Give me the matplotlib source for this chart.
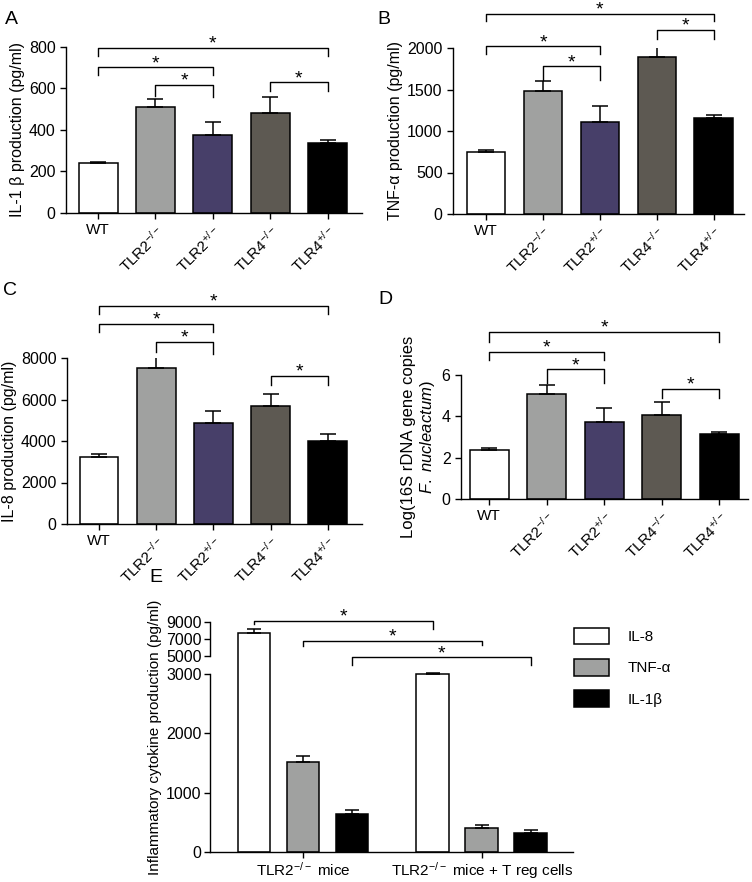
import numpy as np
import matplotlib
matplotlib.use("Agg")
import matplotlib.pyplot as plt
from matplotlib.patches import Patch

plt.rcParams['font.family'] = ['Liberation Sans', 'DejaVu Sans']
plt.rcParams['mathtext.fontset'] = 'custom'
plt.rcParams['mathtext.rm'] = 'Liberation Sans'
plt.rcParams['mathtext.it'] = 'Liberation Sans:italic'
plt.rcParams['mathtext.bf'] = 'Liberation Sans:bold'
plt.rcParams['font.size'] = 10
plt.rcParams['axes.linewidth'] = 1.0
plt.rcParams['xtick.major.width'] = 1.0
plt.rcParams['ytick.major.width'] = 1.0
plt.rcParams['xtick.major.size'] = 4
plt.rcParams['ytick.major.size'] = 4

# ---- data ----
groups = ['WT', 'TLR2$^{-/-}$', 'TLR2$^{+/-}$', 'TLR4$^{-/-}$', 'TLR4$^{+/-}$']
bar_colors = ['white', '#a0a1a0', '#473f69', '#5d5952', 'black']

il1b_mean = [241, 509, 374, 483, 339]
il1b_err = [6, 42, 64, 76, 13]
tnf_mean = [747, 1478, 1108, 1892, 1157]
tnf_err = [28, 128, 189, 160, 40]
il8_mean = [3232, 7504, 4848, 5680, 4000]
il8_err = [128, 624, 576, 576, 320]
fn_mean = [2.37, 5.10, 3.74, 4.05, 3.15]
fn_err = [0.11, 0.43, 0.68, 0.64, 0.09]

# brackets: (i, j, top, left drop, right drop)
br_a = [(0, 4, 797, 757, 757), (0, 2, 702, 667, 667), (1, 2, 618, 565, 557), (3, 4, 630, 586, 586)]
br_b = [(0, 4, 2414, 2325, 2325), (3, 4, 2221, 2108, 2108), (0, 2, 2020, 1928, 1928), (1, 2, 1779, 1618, 1618)]
br_c = [(0, 4, 10528, 10128, 10128), (0, 2, 9648, 9248, 9248), (1, 2, 8768, 8288, 8176), (3, 4, 7152, 6720, 6720)]
br_d = [(0, 4, 8.1, 7.61, 7.61), (0, 2, 7.13, 6.73, 6.73), (1, 2, 6.27, 5.63, 5.63), (3, 4, 5.32, 4.87, 4.87)]

e_groups = ['TLR2$^{-/-}$ mice', 'TLR2$^{-/-}$ mice + T reg cells']
e_series = ['IL-8', 'TNF-α', 'IL-1β']
e_colors = ['white', '#a0a1a0', 'black']
e_mean = [[7757, 3030], [1523, 412], [632, 327]]
e_err = [[466, 60], [101, 39], [84, 40]]
br_e = [(0, 9116, 8806, 8223), (1, 6800, 6176, 6294), (2, 4848, 4036, 4036)]


def bracket(ax, x1, x2, y, yl, yr, fs=14):
    ax.plot([x1, x1, x2, x2], [yl, y, y, yr], color='black', lw=1.0, clip_on=False)
    ax.annotate('*', ((x1 + x2) / 2, y), xytext=(0, -3.5), textcoords='offset points',
                ha='center', va='bottom', fontsize=fs, annotation_clip=False)


def panel(rect, means, errs, ylim, yticks, ylabel, brs, xlim, ylab_fs=11.5):
    ax = fig.add_axes(rect)
    x = np.arange(len(means))
    ax.bar(x, means, width=0.68, color=bar_colors, edgecolor='black', linewidth=1.1, zorder=2)
    ax.errorbar(x, means, yerr=[np.zeros(len(errs)), errs], fmt='none', ecolor='black',
                elinewidth=1.1, capsize=6, capthick=1.1, zorder=3)
    ax.set_xlim(*xlim)
    ax.set_ylim(*ylim)
    ax.set_yticks(yticks)
    ax.set_xticks(x)
    ax.set_xticklabels(groups)
    for k, lab in enumerate(ax.get_xticklabels()):
        if k > 0:
            lab.set_rotation(45)
            lab.set_ha('right')
            lab.set_va('top')
            lab.set_rotation_mode('anchor')
    ax.tick_params(axis='x', labelsize=11)
    ax.tick_params(axis='y', labelsize=11.5)
    ax.spines['top'].set_visible(False)
    ax.spines['right'].set_visible(False)
    ax.set_ylabel(ylabel, fontsize=ylab_fs, labelpad=3)
    for i, j, y, yl, yr in brs:
        bracket(ax, i, j, y, yl, yr)
    return ax


fig = plt.figure(figsize=(7.52, 8.82), dpi=100)

panel([66 / 752, 1 - 213 / 882, 296 / 752, 166 / 882], il1b_mean, il1b_err, (0, 800),
      [0, 200, 400, 600, 800], 'IL-1 β production (pg/ml)', br_a, (-0.56, 4.6))
panel([453 / 752, 1 - 214 / 882, 291 / 752, 166 / 882], tnf_mean, tnf_err, (0, 2000),
      [0, 500, 1000, 1500, 2000], 'TNF-α production (pg/ml)', br_b, (-0.58, 4.53))
panel([67 / 752, 1 - 524 / 882, 295 / 752, 166 / 882], il8_mean, il8_err, (0, 8000),
      [0, 2000, 4000, 6000, 8000], 'IL-8 production (pg/ml)', br_c, (-0.56, 4.6))
panel([461 / 752, 1 - 499 / 882, 287 / 752, 124 / 882], fn_mean, fn_err, (0, 6),
      [0, 2, 4, 6], 'Log(16S rDNA gene copies\n$\\it{F.\\ nucleactum}$)', br_d, (-0.49, 4.5),
      ylab_fs=12)


# ---- panel E with broken y axis ----
def fwd(y):
    y = np.asarray(y, float)
    return np.where(y <= 3000, y,
                    np.where(y < 5000, 3000 + (y - 3000) * 303 / 2000,
                             3303 + (y - 5000) * 0.1433))


def inv(u):
    u = np.asarray(u, float)
    return np.where(u <= 3000, u,
                    np.where(u < 3303, 3000 + (u - 3000) * 2000 / 303,
                             5000 + (u - 3303) / 0.1433))


axe = fig.add_axes([210 / 752, 1 - 852 / 882, 363 / 752, 230 / 882])
axe.set_yscale('function', functions=(fwd, inv))
gx = np.arange(len(e_groups))
off = [-0.274, 0, 0.274]
for k in range(3):
    axe.bar(gx + off[k], e_mean[k], width=0.184, color=e_colors[k], edgecolor='black',
            linewidth=1.1, zorder=2, label=e_series[k])
    axe.errorbar(gx + off[k], e_mean[k], yerr=[np.zeros(2), e_err[k]], fmt='none',
                 ecolor='black', elinewidth=1.1, capsize=5, capthick=1.1, zorder=3)
axe.set_xlim(-0.52, 1.51)
axe.set_ylim(0, 9000)
axe.set_yticks([0, 1000, 2000, 3000, 5000, 7000, 9000])
axe.set_xticks(gx)
axe.set_xticklabels(e_groups, fontsize=11)
axe.tick_params(axis='x', pad=2)
axe.tick_params(axis='y', labelsize=11.5, pad=2)
axe.spines['top'].set_visible(False)
axe.spines['right'].set_visible(False)
axe.spines['left'].set_bounds(0, 3000)
axe.plot([0, 0], [5000, 9000], transform=axe.get_yaxis_transform(), color='black',
         lw=1.0, clip_on=False)
axe.set_ylabel('Inflammatory cytokine production (pg/ml)', fontsize=11, labelpad=3)
for k, y, yl, yr in br_e:
    bracket(axe, gx[0] + off[k], gx[1] + off[k], y, yl, yr)

handles = [Patch(facecolor=c, edgecolor='black', linewidth=1.1) for c in e_colors]
fig.legend(handles, e_series, loc='upper left', bbox_to_anchor=(0.745, 1 - 614 / 882),
           frameon=False, fontsize=11, handlelength=2.3, handleheight=1.3,
           labelspacing=0.95, handletextpad=1.2)

# panel letters
for txt, px, py in [('A', 5, 19), ('B', 377, 19), ('C', 3, 290), ('D', 378, 300), ('E', 149, 578)]:
    fig.text(px / 752, 1 - py / 882, txt, fontsize=14, va='center', ha='left')

fig.savefig('out.png', dpi=100)
